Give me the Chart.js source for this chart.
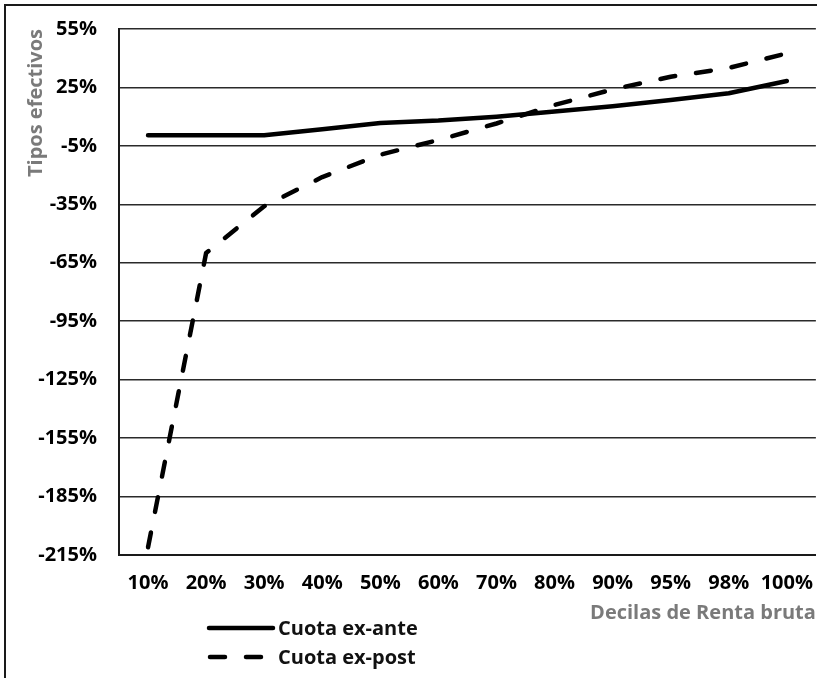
<!DOCTYPE html>
<html lang="es">
<head>
<meta charset="utf-8">
<title>Tipos efectivos por decilas de renta bruta</title>
<script src="https://cdn.jsdelivr.net/npm/chart.js@4.4.1/dist/chart.umd.min.js"></script>
<style>
    html, body { margin: 0; padding: 0; background: #fff; }
    body { width: 817px; height: 678px; overflow: hidden; position: relative; font-family: "Open Sans", sans-serif; }
    #frame { position: absolute; left: 4px; top: 4px; width: 840px; height: 700px; border: 2px solid #1a1a1a; }
    #wrap { position: absolute; left: 0; top: 0; width: 817px; height: 678px; }
    .legend-row { position: absolute; left: 206px; height: 26px; display: flex; align-items: center; }
    .legend-row svg { display: block; }
    .legend-row span { font-weight: 700; font-size: 20px; color: #111; margin-left: 2px; line-height: 26px; }
</style>
</head>
<body>
<div id="frame"></div>
<div id="wrap"><canvas id="chart"></canvas></div>

<div class="legend-row" style="top:615px">
    <svg width="70" height="10"><line x1="3" y1="5" x2="67" y2="5" stroke="#000" stroke-width="4.5" stroke-linecap="round"/></svg>
    <span>Cuota ex-ante</span>
</div>
<div class="legend-row" style="top:644px">
    <svg width="70" height="10"><line x1="4" y1="5" x2="62" y2="5" stroke="#000" stroke-width="4.5" stroke-linecap="round" stroke-dasharray="15 21"/></svg>
    <span>Cuota ex-post</span>
</div>

<script>
// ----------------------------- Data -----------------------------------------
const deciles = ["10%", "20%", "30%", "40%", "50%", "60%", "70%", "80%", "90%", "95%", "98%", "100%"];
const cuotaExAnte = [0.5, 0.5, 0.5, 3.5, 6.8, 8, 10, 12.6, 15.3, 18.5, 22, 28.3];
const cuotaExPost = [-211, -60, -36, -21, -9.5, -2, 6.5, 16, 24, 30.5, 35, 42.5];
const yTicks = [55, 25, -5, -35, -65, -95, -125, -155, -185, -215];

// ----------------------------- Chart ----------------------------------------
const TickFont = { family: "'Open Sans'", size: 20, weight: "bold" };
const GREY = "#7a7a7a";
const NONE = "rgba(0,0,0,0)";

document.addEventListener("DOMContentLoaded", function () {
    const ctx = document.getElementById("chart");

    new Chart(ctx, {
        type: "line",
        data: {
            labels: deciles,
            datasets: [
                {
                    label: "Cuota ex-ante",
                    data: cuotaExAnte,
                    borderColor: "#000",
                    borderWidth: 4.5,
                    borderCapStyle: "round",
                    borderJoinStyle: "round",
                    pointRadius: 0,
                    tension: 0,
                    fill: false,
                },
                {
                    label: "Cuota ex-post",
                    data: cuotaExPost,
                    borderColor: "#000",
                    borderWidth: 4.5,
                    borderDash: [15, 21],
                    borderCapStyle: "round",
                    borderJoinStyle: "round",
                    pointRadius: 0,
                    tension: 0,
                    fill: false,
                },
            ],
        },
        options: {
            responsive: true,
            maintainAspectRatio: false,
            animation: false,
            layout: { padding: { left: 5, top: 29, right: 0, bottom: 53 } },
            plugins: {
                legend: { display: false },
                tooltip: { enabled: false },
            },
            scales: {
                x: {
                    offset: true,
                    // tick marks only give room for the labels; the grid itself is hidden
                    grid: { display: false, drawTicks: true, tickLength: 12, tickColor: NONE },
                    border: { display: true, color: "#1a1a1a", width: 2 },
                    ticks: { color: "#000", font: TickFont, padding: 4, maxRotation: 0, autoSkip: false },
                    title: {
                        display: true,
                        text: "Decilas de Renta bruta",
                        align: "end",
                        color: GREY,
                        font: TickFont,
                        padding: { top: 0, bottom: 0 },
                    },
                    afterFit: (s) => { s.height = 70; },
                },
                y: {
                    min: -215,
                    max: 55,
                    afterBuildTicks: (axis) => { axis.ticks = yTicks.map((v) => ({ value: v })); },
                    grid: { color: "#2a2a2a", lineWidth: 1.5, drawTicks: true, tickLength: 19, tickColor: NONE },
                    border: { display: true, color: "#1a1a1a", width: 2 },
                    ticks: {
                        color: "#000",
                        font: TickFont,
                        padding: 3,
                        callback: (v) => v + "%",
                    },
                    title: {
                        display: true,
                        text: "Tipos efectivos",
                        align: "end",
                        color: GREY,
                        font: TickFont,
                        padding: { top: 19, bottom: 0 },
                    },
                    afterFit: (s) => { s.width = 114; },
                },
            },
        },
    });
});
</script>
</body>
</html>
